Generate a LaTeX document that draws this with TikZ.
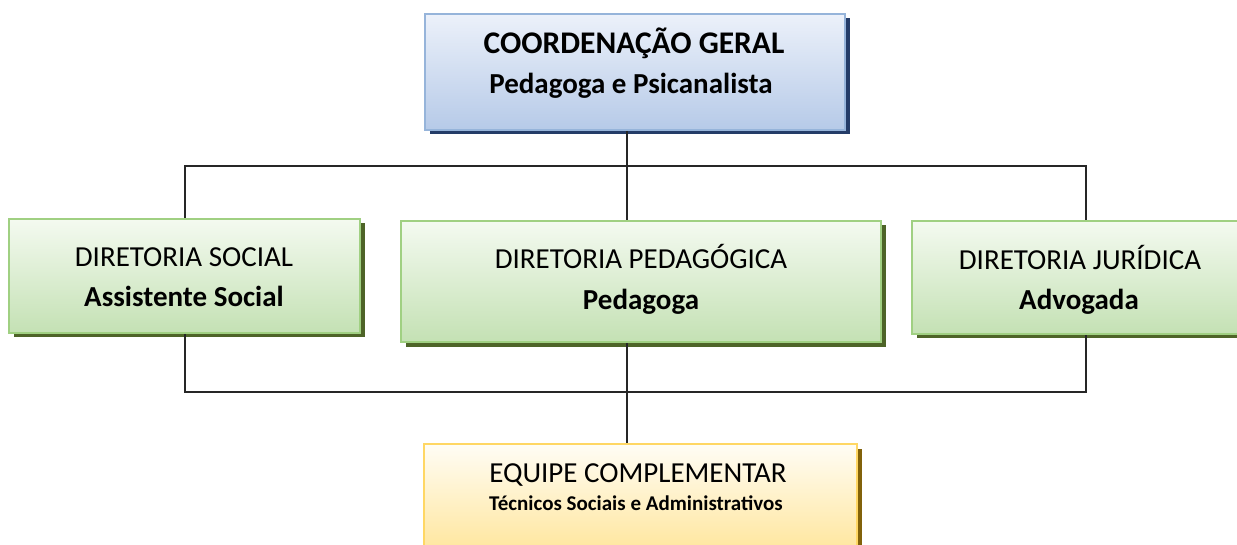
\documentclass[tikz,border=0pt]{standalone}
\usepackage{fontspec}
\setmainfont{Carlito}
\definecolor{bluetop}{RGB}{236,241,250}
\definecolor{bluebot}{RGB}{182,202,232}
\definecolor{blueedge}{RGB}{150,180,218}
\definecolor{blueshadow}{RGB}{36,60,104}
\definecolor{greentop}{RGB}{244,250,240}
\definecolor{greenbot}{RGB}{196,225,180}
\definecolor{greenedge}{RGB}{160,208,130}
\definecolor{greenshadow}{RGB}{78,100,40}
\definecolor{yellowtop}{RGB}{255,253,245}
\definecolor{yellowbot}{RGB}{255,228,150}
\definecolor{yellowedge}{RGB}{255,215,100}
\definecolor{yellowshadow}{RGB}{130,98,10}
\tikzset{
  x=1pt, y=-1pt,
  boxbase/.style={rectangle, inner sep=0pt, line width=2pt},
  bluebox/.style={boxbase, draw=blueedge, top color=bluetop, bottom color=bluebot},
  greenbox/.style={boxbase, draw=greenedge, top color=greentop, bottom color=greenbot},
  yellowbox/.style={boxbase, draw=yellowedge, top color=yellowtop, bottom color=yellowbot},
  conn/.style={line width=1.5pt, black!85},
  txt/.style={anchor=base, inner sep=0pt},
  bigb/.style={txt, font=\fontsize{31.5}{31.5}\selectfont\bfseries},
  bigbb/.style={txt, font=\fontsize{29}{29}\selectfont\bfseries},
  reg/.style={txt, font=\fontsize{29}{29}\selectfont},
  regb/.style={txt, font=\fontsize{29}{29}\selectfont\bfseries},
  smallb/.style={txt, font=\fontsize{21}{21}\selectfont\bfseries},
}
\newcommand{\shadowbox}[5]{%
  \fill[#5] (#1+4.5,#2+4.5) rectangle (#3+4.5,#4+4.5);}
\begin{document}
\begin{tikzpicture}
\useasboundingbox (0,0) rectangle (1237,545);
% shadows
\shadowbox{425}{14}{845}{130}{blueshadow}
\shadowbox{9}{219}{360}{333}{greenshadow}
\shadowbox{401}{221}{881}{342}{greenshadow}
\shadowbox{912}{221}{1245}{334}{greenshadow}
\shadowbox{424}{444}{857}{560}{yellowshadow}
% boxes
\node[bluebox, minimum width=420pt, minimum height=116pt] (cg) at (635,72) {};
\node[greenbox, minimum width=351pt, minimum height=114pt] (ds) at (184.5,276) {};
\node[greenbox, minimum width=480pt, minimum height=121pt] (dp) at (641,281.5) {};
\node[greenbox, minimum width=333pt, minimum height=113pt] (dj) at (1078.5,277.5) {};
\node[yellowbox, minimum width=433pt, minimum height=116pt] (eq) at (640.5,502) {};
% texts
\node[bigb] (cg1) at (634,54) {COORDENAÇÃO GERAL};
\node[bigbb] (cg2) at (631,94) {Pedagoga e Psicanalista};
\node[reg] (ds1) at (184,267) {DIRETORIA SOCIAL};
\node[regb] (ds2) at (184,307) {Assistente Social};
\node[reg] (dp1) at (641,269) {DIRETORIA PEDAGÓGICA};
\node[regb] (dp2) at (641,309) {Pedagoga};
\node[reg] (dj1) at (1080,270) {DIRETORIA JURÍDICA};
\node[regb] (dj2) at (1079,310) {Advogada};
\node[reg] (eq1) at (638,482) {EQUIPE COMPLEMENTAR};
\node[smallb] (eq2) at (636,510) {Técnicos Sociais e Administrativos};
% connectors
\coordinate (top) at (627,166);
\coordinate (bot) at (627,392);
\draw[conn] (cg.south -| top) -- (top);
\draw[conn] (ds.north -| 185,0) |- (top -| 1086,0) -- (dj.north -| 1086,0);
\draw[conn] (top) -- (dp.north -| top);
\draw[conn] (ds.south -| 185,0) |- (bot -| 1086,0) -- (dj.south -| 1086,0);
\draw[conn] (dp.south -| bot) -- (eq.north -| bot);
\end{tikzpicture}
\end{document}
